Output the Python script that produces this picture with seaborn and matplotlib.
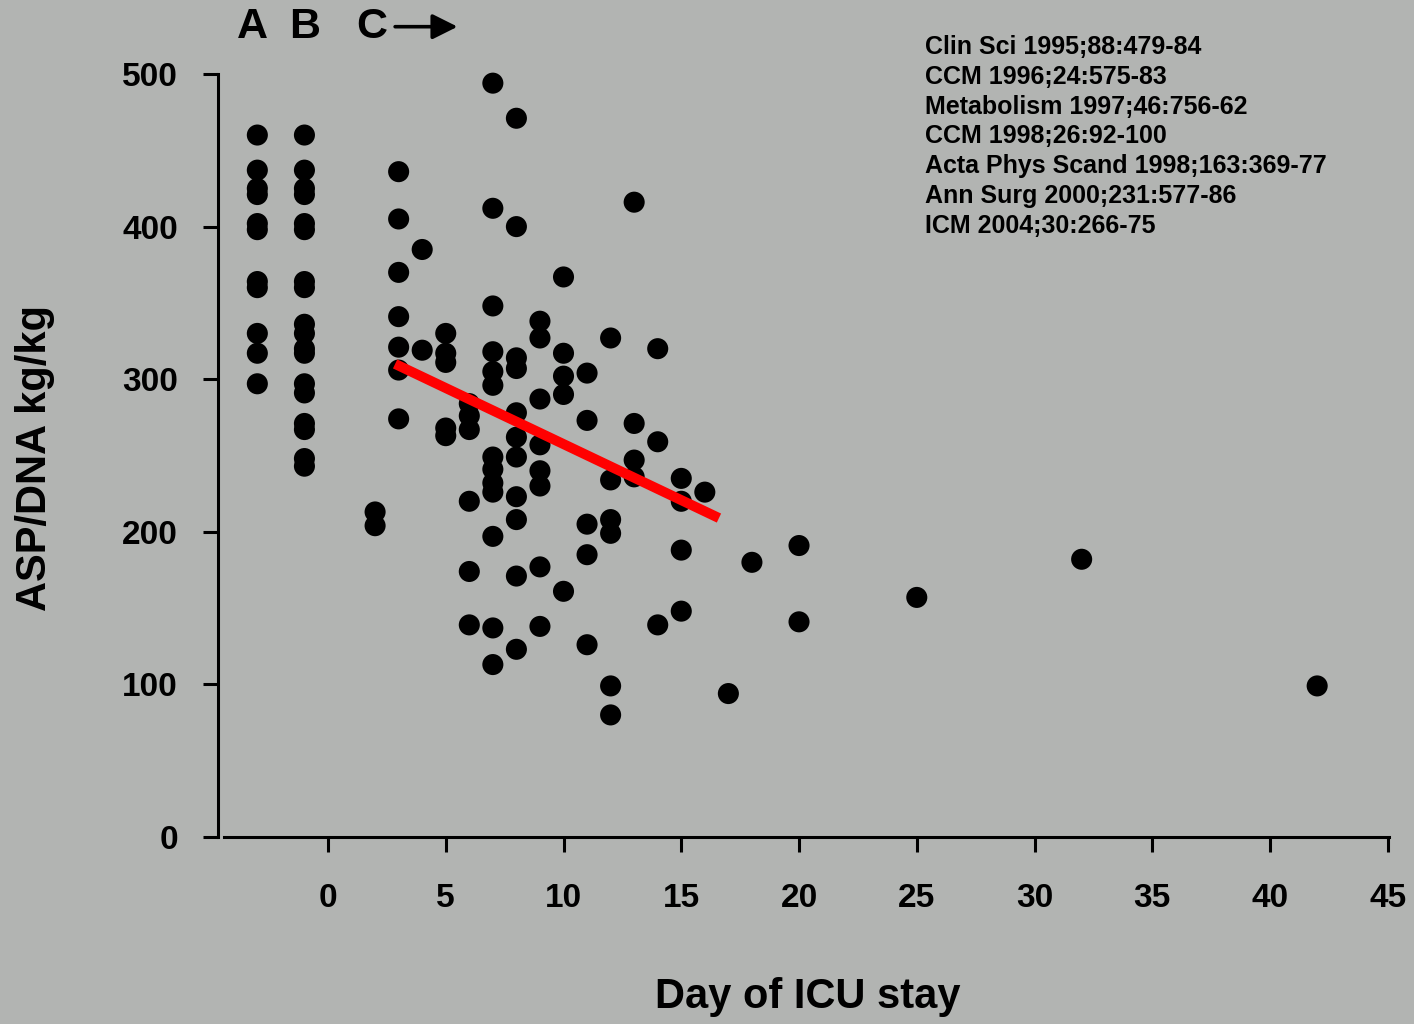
import numpy as np
import pandas as pd
import seaborn as sns
import matplotlib
matplotlib.use("Agg")
import matplotlib.pyplot as plt

# Day of ICU stay (-3 = group A, -1 = group B) and ASP/DNA ratio per biopsy
icu_day = (
    [-3] * 11
    + [-1] * 18
    + [2] * 2
    + [3] * 7
    + [4] * 2
    + [5] * 5
    + [6] * 6
    + [7] * 13
    + [8] * 11
    + [9] * 8
    + [10] * 5
    + [11] * 5
    + [12] * 6
    + [13] * 4
    + [14] * 3
    + [15] * 4
    + [16, 17, 18, 20, 20, 25, 32, 42]
)
asp_dna = (
    [460, 437, 425, 421, 402, 398, 364, 360, 330, 317, 297]
    + [460, 437, 425, 421, 402, 398, 364, 360, 336, 330, 320, 317, 297, 291, 271, 267, 248, 243]
    + [213, 204]
    + [436, 405, 370, 341, 321, 306, 274]
    + [385, 319]
    + [330, 317, 311, 268, 263]
    + [284, 276, 267, 220, 174, 139]
    + [494, 412, 348, 318, 305, 296, 249, 241, 232, 226, 197, 137, 113]
    + [471, 400, 314, 307, 278, 262, 249, 223, 208, 171, 123]
    + [338, 327, 287, 257, 240, 230, 177, 138]
    + [367, 317, 302, 290, 161]
    + [304, 273, 205, 185, 126]
    + [327, 234, 208, 199, 99, 80]
    + [416, 271, 247, 236]
    + [320, 259, 139]
    + [235, 220, 188, 148]
    + [226, 94, 180, 191, 141, 157, 182, 99]
)

# Regression line over the ICU period (C)
trend_day = [2.85, 16.6]
trend_value = [310, 209]

x_ticks = [0, 5, 10, 15, 20, 25, 30, 35, 40, 45]
y_ticks = [0, 100, 200, 300, 400, 500]
group_labels = ["A", "B", "C"]
group_label_day = [-3.2, -0.98, 1.87]

references = [
    "Clin Sci 1995;88:479-84",
    "CCM 1996;24:575-83",
    "Metabolism 1997;46:756-62",
    "CCM 1998;26:92-100",
    "Acta Phys Scand 1998;163:369-77",
    "Ann Surg 2000;231:577-86",
    "ICM 2004;30:266-75",
]

bg = "#b2b4b2"
sns.set_theme(style="white")
plt.rcParams["font.family"] = ["Liberation Sans", "DejaVu Sans"]
plt.rcParams["font.weight"] = "bold"

fig = plt.figure(figsize=(14.14, 10.24), dpi=100, facecolor=bg)
ax = fig.add_axes([218 / 1414, 187 / 1024, 1171 / 1414, 763 / 1024])
ax.set_facecolor(bg)

df = pd.DataFrame({"day": icu_day, "ratio": asp_dna})
sns.scatterplot(data=df, x="day", y="ratio", ax=ax, color="black", s=230,
                edgecolor="none", clip_on=False, zorder=3)

trend = pd.DataFrame({"day": trend_day, "ratio": trend_value})
sns.lineplot(data=trend, x="day", y="ratio", ax=ax, color="#ff0000", lw=7.2,
             solid_capstyle="butt", zorder=4)

ax.set_xlim(-4.67, 45.05)
ax.set_ylim(0, 500)
ax.set_xticks(x_ticks)
ax.set_yticks(y_ticks)
ax.tick_params(axis="both", which="major", direction="out", length=10.8, width=2.2,
               color="black", labelsize=24, labelcolor="black",
               bottom=True, left=True)
ax.tick_params(axis="y", pad=18)
ax.tick_params(axis="x", pad=22)
for lab in ax.get_xticklabels() + ax.get_yticklabels():
    lab.set_fontweight("bold")

for side in ["top", "right"]:
    ax.spines[side].set_visible(False)
for side in ["left", "bottom"]:
    ax.spines[side].set_color("black")
    ax.spines[side].set_linewidth(2.2)
ax.spines["bottom"].set_bounds(-4.4, 45.05)

ax.set_xlabel("Day of ICU stay", fontsize=30, fontweight="bold", color="black")
ax.set_ylabel("ASP/DNA kg/kg", fontsize=30, fontweight="bold", color="black")
ax.xaxis.set_label_coords(0.504, -0.21)
ax.xaxis.label.set_verticalalignment("center")
ax.yaxis.set_label_coords(-0.156, 0.497)
ax.yaxis.label.set_verticalalignment("center")

# Group markers above the plot
for lab, d in zip(group_labels, group_label_day):
    ax.text(d, 531, lab, fontsize=31, fontweight="bold", color="black",
            ha="center", va="center", clip_on=False)
ax.annotate("", xy=(5.5, 531), xytext=(2.85, 531), annotation_clip=False,
            arrowprops=dict(arrowstyle="-|>,head_length=0.9,head_width=0.45",
                            lw=2.6, color="black", shrinkA=0, shrinkB=0,
                            mutation_scale=17))

for i, ref in enumerate(references):
    fig.text(925 / 1414, 1 - (47 + i * 29.8) / 1024, ref, fontsize=18,
             fontweight="bold", color="black", ha="left", va="center")

fig.savefig("out.png", dpi=100, facecolor=bg)
